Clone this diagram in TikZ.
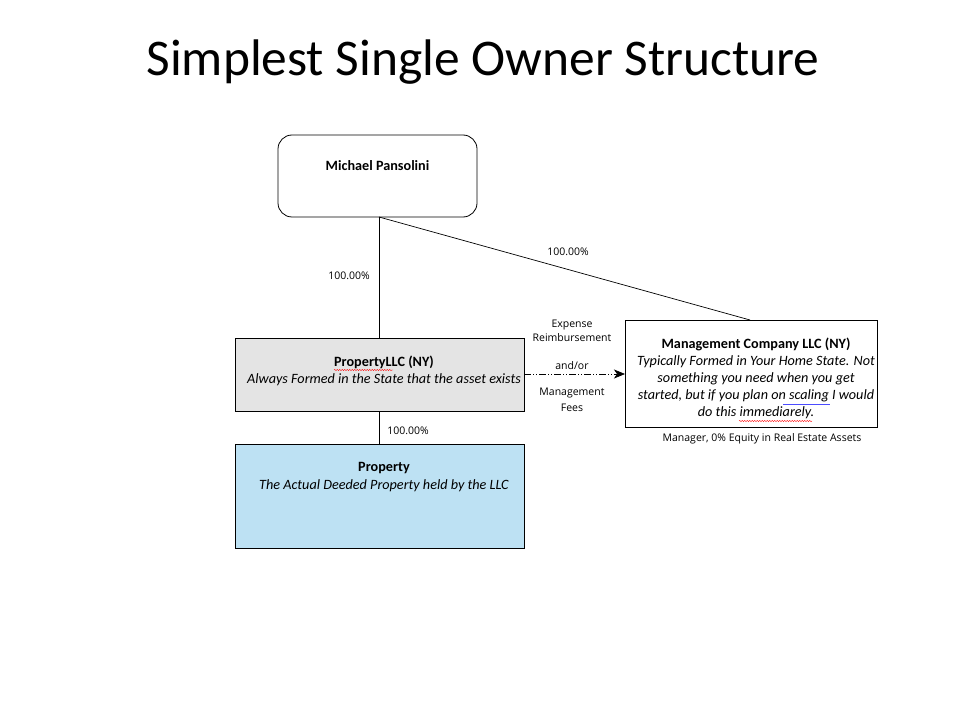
\documentclass[tikz,border=0pt]{standalone}
\usepackage{fontspec}
\setmainfont{Carlito}
\newfontfamily\lblfont{Open Sans}
\usetikzlibrary{arrows.meta,decorations.pathmorphing}
\definecolor{llcgray}{HTML}{E4E4E4}
\definecolor{propblue}{HTML}{BDE1F3}
\begin{document}
\begin{tikzpicture}[x=1pt,y=-1pt,
  box/.style={draw=black,line width=0.8pt,inner sep=0pt},
  lbl/.style={font=\lblfont\fontsize{10.5}{12}\selectfont,inner sep=0pt,align=center},
  conn/.style={draw=black,line width=0.7pt},
  txt/.style={inner sep=0pt,align=center,font=\fontsize{14.2}{17}\selectfont}]
\useasboundingbox (0,0) rectangle (960,727);
% title
\node[inner sep=0pt] (title) at (483,62) {\resizebox{673pt}{!}{\fontsize{40}{48}\selectfont Simplest Single Owner Structure}};
% boxes
\draw[box,rounded corners=14pt] (278,135) rectangle (477,217);
\coordinate (mpb) at (379,217);
\coordinate (mpd) at (379,217);
\node[txt] (mp) at (377.5,166) {\textbf{Michael Pansolini}};
\draw[box,fill=llcgray] (235,338) rectangle (524,411);
\coordinate (llct) at (379,338);
\coordinate (llcb) at (379,411);
\coordinate (llcr) at (524,374);
\node[txt] (llc1) at (384,362) {\textbf{PropertyLLC (NY)}};
\node[txt] (llc2) at (384,380) {\textit{Always Formed in the State that the asset exists}};
\draw[box,fill=propblue] (235,444) rectangle (524,548);
\coordinate (propt) at (379,444);
\node[txt] (p1) at (384,468) {\textbf{Property}};
\node[txt] (p2) at (384,486) {\textit{The Actual Deeded Property held by the LLC}};
\draw[box] (625,320) rectangle (877,427);
\coordinate (mgt) at (750,320);
\coordinate (mgl) at (625,374);
\node[txt] (m1) at (756,344) {\textbf{Management Company LLC (NY)}};
\node[txt] (m2) at (756,362) {\textit{Typically Formed in Your Home State. Not}};
\node[txt] (m3) at (756,379) {\textit{something you need when you get}};
\node[txt] (m4) at (756,396) {\textit{started, but if you plan on scaling I would}};
\node[txt] (m5) at (756,413) {\textit{do this immediarely.}};
\node[lbl] (mlab) at (762,439) {Manager, 0\% Equity in Real Estate Assets};
% spell-check underlines
\draw[red,line width=0.4pt,decorate,decoration={snake,amplitude=0.6pt,segment length=2.5pt}] (334,370) -- (393,370);
\draw[red,line width=0.4pt,decorate,decoration={snake,amplitude=0.6pt,segment length=2.5pt}] (739,421) -- (812,421);
\draw[blue!70,line width=0.5pt] (783,404) -- (830,404);
% connectors
\draw[conn] (mpb) -- (llct);
\draw[conn] (mpd) -- (mgt);
\draw[conn] (llcb) -- (propt);
\draw[conn,dash pattern=on 7pt off 2pt on 1pt off 2pt on 1pt off 2pt,-{Stealth[length=11pt,width=9pt,inset=3pt]}] (llcr) -- (mgl);
% labels
\node[lbl] (l1) at (349,276) {100.00\%};
\node[lbl] (l2) at (568,252) {100.00\%};
\node[lbl] (l3) at (408,431) {100.00\%};
\node[lbl] (e1) at (572,325) {Expense};
\node[lbl] (e2) at (572,338) {Reimbursement};
\node[lbl] (e3) at (572,366) {and/or};
\node[lbl] (e4) at (572,393) {Management};
\node[lbl] (e5) at (572,408) {Fees};
\end{tikzpicture}
\end{document}
